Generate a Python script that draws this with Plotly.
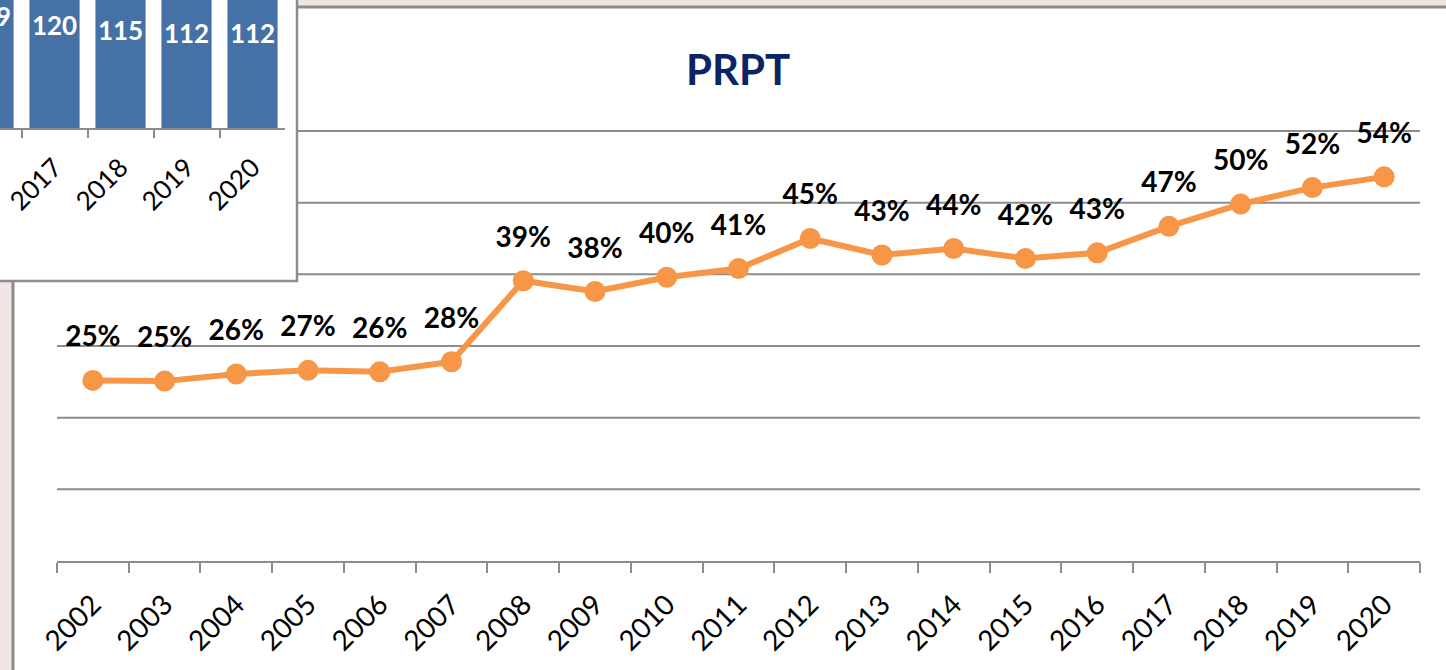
import plotly.graph_objects as go

# ---------------- data ----------------
years = [str(y) for y in range(2002, 2021)]
prpt_pct = [25.2, 25.1, 26.1, 26.6, 26.4, 27.8, 39.1, 37.6, 39.6, 40.8,
            45.0, 42.7, 43.6, 42.2, 43.0, 46.7, 49.8, 52.1, 53.6]
grid_values = [10, 20, 30, 40, 50, 60]

inset_years = ["2016", "2017", "2018", "2019", "2020"]
inset_values = [129, 120, 115, 112, 112]

W, H = 1446, 670
ORANGE = "#F79646"
GRID = "#8C8C8C"
FONT = "Lato"

def px_x(p):
    return p / W

def px_y(p):
    return 1 - p / H

# main y scale: value 0 at px 561, 10 units per 71.67 px
Y0_PX, UNIT_PX = 561, 7.1667
Y_MAX = 61
LABEL_SHIFT = 41 / UNIT_PX  # labels sit ~41 px above the points

fig = go.Figure()

# main line chart
fig.add_trace(go.Scatter(
    x=years, y=prpt_pct, mode="lines+markers",
    line=dict(color=ORANGE, width=6),
    marker=dict(color=ORANGE, size=21),
    xaxis="x", yaxis="y", showlegend=False, hoverinfo="x+y",
))
# data labels (same values, on an overlaid axis shifted upward)
fig.add_trace(go.Scatter(
    x=years, y=prpt_pct, mode="text",
    text=[f"{round(v)}%" for v in prpt_pct],
    textfont=dict(family=FONT, size=28, color="black", weight="bold"),
    cliponaxis=False, xaxis="x", yaxis="y4", showlegend=False, hoverinfo="skip",
))

# inset bar chart (partially visible)
fig.add_trace(go.Bar(
    x=inset_years, y=inset_values, marker=dict(color="#4571A6", line=dict(width=0)),
    xaxis="x2", yaxis="y2", showlegend=False,
))
fig.add_trace(go.Scatter(
    x=inset_years, y=inset_values, mode="text",
    text=[str(v) for v in inset_values],
    textfont=dict(family=FONT, size=26, color="white", weight="bold"),
    xaxis="x2", yaxis="y3", showlegend=False, hoverinfo="skip",
))

inset_top = 0
inset_axis_px = 128
inset_box_right = 297
inset_box_bottom = 281
inset_dom_right = 285
dom_h = inset_axis_px - inset_top

shapes = [
    # main chart area (white) with left/top border
    dict(type="rect", xref="paper", yref="paper", layer="below",
         x0=px_x(13), x1=1.05, y0=-0.05, y1=px_y(7),
         fillcolor="white", line=dict(color=GRID, width=3)),
]
# horizontal gridlines of the main chart
for g in grid_values:
    shapes.append(dict(type="line", xref="x domain", yref="y", layer="below",
                       x0=0, x1=1, y0=g, y1=g, line=dict(color=GRID, width=2)))
# inset chart box (drawn over the main gridlines)
shapes.append(dict(type="rect", xref="x2 domain", yref="y2 domain", layer="below",
                   x0=-0.1, x1=inset_box_right / inset_dom_right,
                   y0=1 - (inset_box_bottom - inset_top) / dom_h, y1=1.2,
                   fillcolor="white", line=dict(color=GRID, width=2.5)))

main_dom = [1 - Y0_PX / H, 1 - (Y0_PX - Y_MAX * UNIT_PX) / H]

fig.update_layout(
    width=W, height=H, margin=dict(l=0, r=0, t=0, b=0, autoexpand=False),
    paper_bgcolor="#EFE5E3", plot_bgcolor="rgba(0,0,0,0)",
    bargap=0.24,
    title=dict(text="PRPT", x=738 / W, y=px_y(70), xanchor="center", yanchor="middle",
               font=dict(family=FONT, size=42, color="#0B2464", weight="bold")),
    xaxis=dict(domain=[px_x(57), px_x(1420)], type="category",
               range=[-0.5, len(years) - 0.5], automargin=False,
               showline=True, linecolor=GRID, linewidth=2,
               ticks="outside", tickson="boundaries", ticklen=10, tickwidth=2, tickcolor=GRID,
               tickangle=-45, ticklabelstandoff=14,
               tickfont=dict(family=FONT, size=28, color="black"),
               showgrid=False, zeroline=False, anchor="y"),
    yaxis=dict(domain=main_dom, range=[0, Y_MAX], automargin=False,
               showticklabels=False, showgrid=False,
               zeroline=False, showline=False, ticks="", anchor="x"),
    yaxis4=dict(domain=main_dom, range=[-LABEL_SHIFT, Y_MAX - LABEL_SHIFT], automargin=False,
                overlaying="y", showticklabels=False, showgrid=False, zeroline=False,
                showline=False, ticks="", anchor="x"),
    xaxis2=dict(domain=[0, px_x(inset_dom_right)], type="category", automargin=False,
                range=[1 - 54.5 / 66, 1 + (inset_dom_right - 54.5) / 66],
                showline=True, linecolor=GRID, linewidth=2,
                ticks="outside", tickson="boundaries", ticklen=8, tickwidth=2, tickcolor=GRID,
                tickangle=-45, ticklabelstandoff=12,
                tickfont=dict(family=FONT, size=26, color="black"),
                showgrid=False, zeroline=False, anchor="y2"),
    yaxis2=dict(domain=[px_y(inset_axis_px), px_y(inset_top)], range=[0, 100], automargin=False,
                showticklabels=False, showgrid=False, zeroline=False, showline=False,
                ticks="", anchor="x2"),
    yaxis3=dict(domain=[px_y(inset_axis_px), px_y(inset_top)], range=[20, 148], automargin=False,
                overlaying="y2", showticklabels=False, showgrid=False, zeroline=False,
                showline=False, ticks="", anchor="x2"),
    shapes=shapes,
)

fig.write_html("out.html", config={"displayModeBar": False},
               post_script="document.body.style.margin='0';")
